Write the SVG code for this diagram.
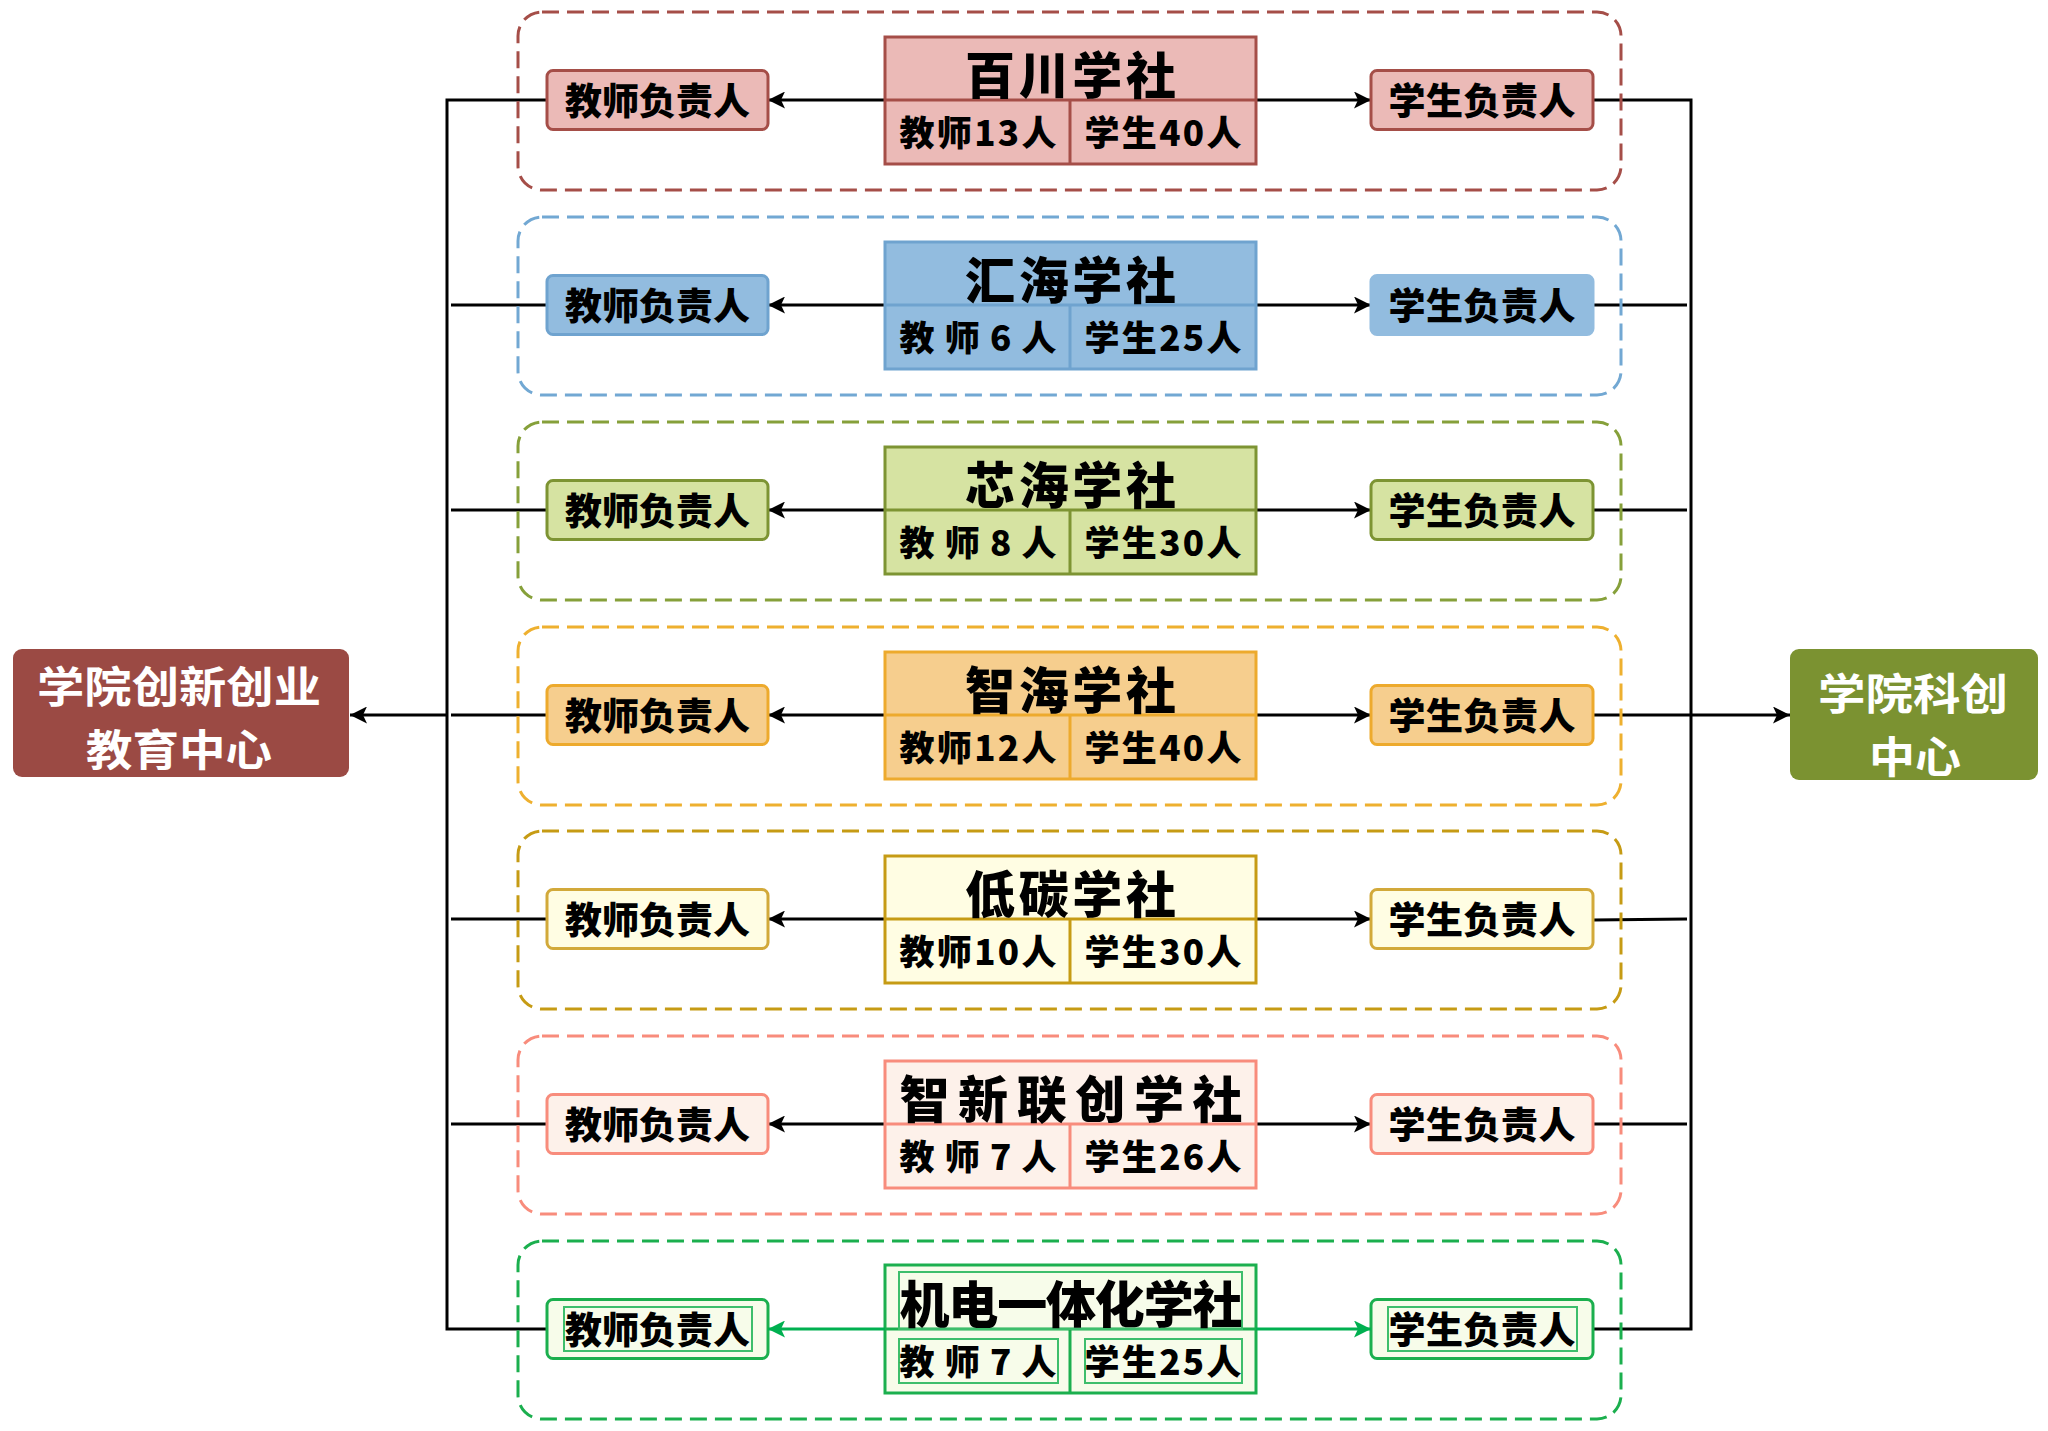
<svg xmlns="http://www.w3.org/2000/svg" width="2048" height="1431" viewBox="0 0 2048 1431">
<style>
text{font-family:"Noto Sans CJK SC","Noto Sans CJK JP",sans-serif;font-weight:900;fill:#000;text-anchor:middle}
.grp{fill:none;stroke-width:3;stroke-dasharray:17 8}
.box{stroke-width:3}
.cbox{stroke-width:3}
.t{font-size:37px}
.ti{font-size:50px}
.ce{font-size:35px}
.hub{font-size:43px;fill:#fff;font-weight:700}
.con{fill:none;stroke:#000;stroke-width:3}
.gcon{fill:none;stroke:#00B050;stroke-width:3}
.inner{fill:none;stroke:#3DBE6C;stroke-width:2}
</style>
<defs>
<marker id="ab" markerUnits="userSpaceOnUse" markerWidth="17" markerHeight="17" viewBox="0 0 17 17" refX="17" refY="8.5" orient="auto"><path d="M0,0 L17,8.5 L0,17 L4,8.5 Z" fill="#000"/></marker>
<marker id="ag" markerUnits="userSpaceOnUse" markerWidth="17" markerHeight="17" viewBox="0 0 17 17" refX="17" refY="8.5" orient="auto"><path d="M0,0 L17,8.5 L0,17 L4,8.5 Z" fill="#00B050"/></marker>
</defs>
<rect width="2048" height="1431" fill="#fff"/>

<g id="connectors">
<path class="con" d="M547,100 H447 V1329 H547"/>
<path class="con" d="M1593,100 H1691 V1329 H1593"/>
<path class="con" d="M451,305 H547 M451,510 H547 M451,715 H547 M451,919 H547 M451,1124 H547"/>
<path class="con" d="M1593,305 H1687 M1593,510 H1687 M1593,920 L1687,919 M1593,1124 H1687"/>
<path class="con" d="M447,715 H350" marker-end="url(#ab)"/>
<path class="con" d="M1593,715 H1790" marker-end="url(#ab)"/>
<path class="con" d="M885,100 H768" marker-end="url(#ab)"/>
<path class="con" d="M1256,100 H1371" marker-end="url(#ab)"/>
<path class="con" d="M885,305 H768" marker-end="url(#ab)"/>
<path class="con" d="M1256,305 H1371" marker-end="url(#ab)"/>
<path class="con" d="M885,510 H768" marker-end="url(#ab)"/>
<path class="con" d="M1256,510 H1371" marker-end="url(#ab)"/>
<path class="con" d="M885,715 H768" marker-end="url(#ab)"/>
<path class="con" d="M1256,715 H1371" marker-end="url(#ab)"/>
<path class="con" d="M885,919 H768" marker-end="url(#ab)"/>
<path class="con" d="M1256,919 H1371" marker-end="url(#ab)"/>
<path class="con" d="M885,1124 H768" marker-end="url(#ab)"/>
<path class="con" d="M1256,1124 H1371" marker-end="url(#ab)"/>
</g>

<g id="edu-center">
<rect x="13" y="649" width="336" height="128" rx="9" fill="#9B4A44"/>
<text class="hub"><tspan x="179" y="703" textLength="284" lengthAdjust="spacingAndGlyphs">学院创新创业</tspan><tspan x="179" y="766" textLength="186" lengthAdjust="spacingAndGlyphs">教育中心</tspan></text>
</g>
<g id="sci-center">
<rect x="1790" y="649" width="248" height="131" rx="9" fill="#7B9231"/>
<text class="hub"><tspan x="1913" y="710" textLength="190" lengthAdjust="spacingAndGlyphs">学院科创</tspan><tspan x="1915" y="773" textLength="92" lengthAdjust="spacingAndGlyphs">中心</tspan></text>
</g>

<!-- Row 1 -->
<g id="row1" transform="translate(0,100)">
<rect class="grp" x="518" y="-88" width="1103" height="178" rx="24" stroke="#A54E48"/>
<g id="baichuan">
<rect class="cbox" x="885" y="-63" width="371" height="127" fill="#EBBAB7" stroke="#A54E48"/>
<path d="M885,0 H1256 M1070,0 V64" stroke="#A54E48" stroke-width="3"/>
<text class="ti" x="1070.5" y="-6.5" textLength="211" lengthAdjust="spacing">百川学社</text>
<text class="ce" x="978" y="45.5" textLength="157" lengthAdjust="spacing">教师13人</text>
<text class="ce" x="1163" y="45.5" textLength="157" lengthAdjust="spacing">学生40人</text>
</g>
<g id="baichuan-teacher"><rect class="box" x="547" y="-29.5" width="221" height="59" rx="6" fill="#EBBAB7" stroke="#A54E48"/><text class="t" x="657.5" y="15" textLength="185" lengthAdjust="spacing">教师负责人</text></g>
<g id="baichuan-student"><rect class="box" x="1371" y="-29.5" width="222" height="59" rx="6" fill="#EBBAB7" stroke="#A54E48"/><text class="t" x="1482" y="15" textLength="187" lengthAdjust="spacing">学生负责人</text></g>
</g>

<!-- Row 2 -->
<g id="row2" transform="translate(0,305)">
<rect class="grp" x="518" y="-88" width="1103" height="178" rx="24" stroke="#72A8D3"/>
<g id="huihai">
<rect class="cbox" x="885" y="-63" width="371" height="127" fill="#92BCDF" stroke="#6FA3CF"/>
<path d="M885,0 H1256 M1070,0 V64" stroke="#6FA3CF" stroke-width="3"/>
<text class="ti" x="1070.5" y="-6.5" textLength="211" lengthAdjust="spacing">汇海学社</text>
<text class="ce" x="978" y="45.5" textLength="157" lengthAdjust="spacing">教 师 6 人</text>
<text class="ce" x="1163" y="45.5" textLength="157" lengthAdjust="spacing">学生25人</text>
</g>
<g id="huihai-teacher"><rect class="box" x="547" y="-29.5" width="221" height="59" rx="6" fill="#92BCDF" stroke="#6FA3CF"/><text class="t" x="657.5" y="15" textLength="185" lengthAdjust="spacing">教师负责人</text></g>
<g id="huihai-student"><rect class="box" x="1371" y="-29.5" width="222" height="59" rx="6" fill="#92BCDF" stroke="#92BCDF"/><text class="t" x="1482" y="15" textLength="187" lengthAdjust="spacing">学生负责人</text></g>
</g>

<!-- Row 3 -->
<g id="row3" transform="translate(0,510)">
<rect class="grp" x="518" y="-88" width="1103" height="178" rx="24" stroke="#86A03A"/>
<g id="xinhai">
<rect class="cbox" x="885" y="-63" width="371" height="127" fill="#D6E3A2" stroke="#7D9433"/>
<path d="M885,0 H1256 M1070,0 V64" stroke="#7D9433" stroke-width="3"/>
<text class="ti" x="1070.5" y="-6.5" textLength="211" lengthAdjust="spacing">芯海学社</text>
<text class="ce" x="978" y="45.5" textLength="157" lengthAdjust="spacing">教 师 8 人</text>
<text class="ce" x="1163" y="45.5" textLength="157" lengthAdjust="spacing">学生30人</text>
</g>
<g id="xinhai-teacher"><rect class="box" x="547" y="-29.5" width="221" height="59" rx="6" fill="#D6E3A2" stroke="#7D9433"/><text class="t" x="657.5" y="15" textLength="185" lengthAdjust="spacing">教师负责人</text></g>
<g id="xinhai-student"><rect class="box" x="1371" y="-29.5" width="222" height="59" rx="6" fill="#D6E3A2" stroke="#7D9433"/><text class="t" x="1482" y="15" textLength="187" lengthAdjust="spacing">学生负责人</text></g>
</g>

<!-- Row 4 -->
<g id="row4" transform="translate(0,715)">
<rect class="grp" x="518" y="-88" width="1103" height="178" rx="24" stroke="#EEB02F"/>
<g id="zhihai">
<rect class="cbox" x="885" y="-63" width="371" height="127" fill="#F6CE8E" stroke="#EDAA2D"/>
<path d="M885,0 H1256 M1070,0 V64" stroke="#EDAA2D" stroke-width="3"/>
<text class="ti" x="1070.5" y="-6.5" textLength="211" lengthAdjust="spacing">智海学社</text>
<text class="ce" x="978" y="45.5" textLength="157" lengthAdjust="spacing">教师12人</text>
<text class="ce" x="1163" y="45.5" textLength="157" lengthAdjust="spacing">学生40人</text>
</g>
<g id="zhihai-teacher"><rect class="box" x="547" y="-29.5" width="221" height="59" rx="6" fill="#F6CE8E" stroke="#EDAA2D"/><text class="t" x="657.5" y="15" textLength="185" lengthAdjust="spacing">教师负责人</text></g>
<g id="zhihai-student"><rect class="box" x="1371" y="-29.5" width="222" height="59" rx="6" fill="#F6CE8E" stroke="#EDAA2D"/><text class="t" x="1482" y="15" textLength="187" lengthAdjust="spacing">学生负责人</text></g>
</g>

<!-- Row 5 -->
<g id="row5" transform="translate(0,919)">
<rect class="grp" x="518" y="-88" width="1103" height="178" rx="24" stroke="#C69B14"/>
<g id="ditan">
<rect class="cbox" x="885" y="-63" width="371" height="127" fill="#FFFDE3" stroke="#C69B14"/>
<path d="M885,0 H1256 M1070,0 V64" stroke="#C69B14" stroke-width="3"/>
<text class="ti" x="1070.5" y="-6.5" textLength="211" lengthAdjust="spacing">低碳学社</text>
<text class="ce" x="978" y="45.5" textLength="157" lengthAdjust="spacing">教师10人</text>
<text class="ce" x="1163" y="45.5" textLength="157" lengthAdjust="spacing">学生30人</text>
</g>
<g id="ditan-teacher"><rect class="box" x="547" y="-29.5" width="221" height="59" rx="6" fill="#FFFDE3" stroke="#D2A93A"/><text class="t" x="657.5" y="15" textLength="185" lengthAdjust="spacing">教师负责人</text></g>
<g id="ditan-student"><rect class="box" x="1371" y="-29.5" width="222" height="59" rx="6" fill="#FFFDE3" stroke="#D2A93A"/><text class="t" x="1482" y="15" textLength="187" lengthAdjust="spacing">学生负责人</text></g>
</g>

<!-- Row 6 -->
<g id="row6" transform="translate(0,1124)">
<rect class="grp" x="518" y="-88" width="1103" height="178" rx="24" stroke="#F88C7C"/>
<g id="zhixin">
<rect class="cbox" x="885" y="-63" width="371" height="127" fill="#FDF1EA" stroke="#F88C7C"/>
<path d="M885,0 H1256 M1070,0 V64" stroke="#F88C7C" stroke-width="3"/>
<text class="ti" x="1071" y="-6.5" textLength="343" lengthAdjust="spacing">智新联创学社</text>
<text class="ce" x="978" y="45.5" textLength="157" lengthAdjust="spacing">教 师 7 人</text>
<text class="ce" x="1163" y="45.5" textLength="157" lengthAdjust="spacing">学生26人</text>
</g>
<g id="zhixin-teacher"><rect class="box" x="547" y="-29.5" width="221" height="59" rx="6" fill="#FDF1EA" stroke="#F88C7C"/><text class="t" x="657.5" y="15" textLength="185" lengthAdjust="spacing">教师负责人</text></g>
<g id="zhixin-student"><rect class="box" x="1371" y="-29.5" width="222" height="59" rx="6" fill="#FDF1EA" stroke="#F88C7C"/><text class="t" x="1482" y="15" textLength="187" lengthAdjust="spacing">学生负责人</text></g>
</g>

<!-- Row 7 -->
<g id="row7" transform="translate(0,1329)">
<rect class="grp" x="518" y="-88" width="1103" height="178" rx="24" stroke="#1BAF4E"/>
<g id="jidian">
<rect class="cbox" x="885" y="-64" width="371" height="128" fill="#F7FCEA" stroke="#1BAF4E"/>
<path d="M885,0 H1256 M1070,0 V64" stroke="#1BAF4E" stroke-width="3"/>
<rect class="inner" x="899" y="-57" width="343" height="57"/>
<rect class="inner" x="899" y="10" width="159" height="44"/>
<rect class="inner" x="1085" y="10" width="157" height="44"/>
<text class="ti" x="1071" y="-6.5" textLength="343" lengthAdjust="spacing">机电一体化学社</text>
<text class="ce" x="978" y="45.5" textLength="157" lengthAdjust="spacing">教 师 7 人</text>
<text class="ce" x="1163" y="45.5" textLength="157" lengthAdjust="spacing">学生25人</text>
</g>
<g id="jidian-teacher"><rect class="box" x="547" y="-29.5" width="221" height="59" rx="6" fill="#F7FCEA" stroke="#1BAF4E"/><rect class="inner" x="564" y="-22" width="188" height="44"/><text class="t" x="657.5" y="15" textLength="185" lengthAdjust="spacing">教师负责人</text></g>
<g id="jidian-student"><rect class="box" x="1371" y="-29.5" width="222" height="59" rx="6" fill="#F7FCEA" stroke="#1BAF4E"/><rect class="inner" x="1388" y="-22" width="189" height="44"/><text class="t" x="1482" y="15" textLength="187" lengthAdjust="spacing">学生负责人</text></g>
</g>

<g id="connectors-green">
<path class="gcon" d="M885,1329 H768" marker-end="url(#ag)"/>
<path class="gcon" d="M1256,1329 H1371" marker-end="url(#ag)"/>
</g>
</svg>
